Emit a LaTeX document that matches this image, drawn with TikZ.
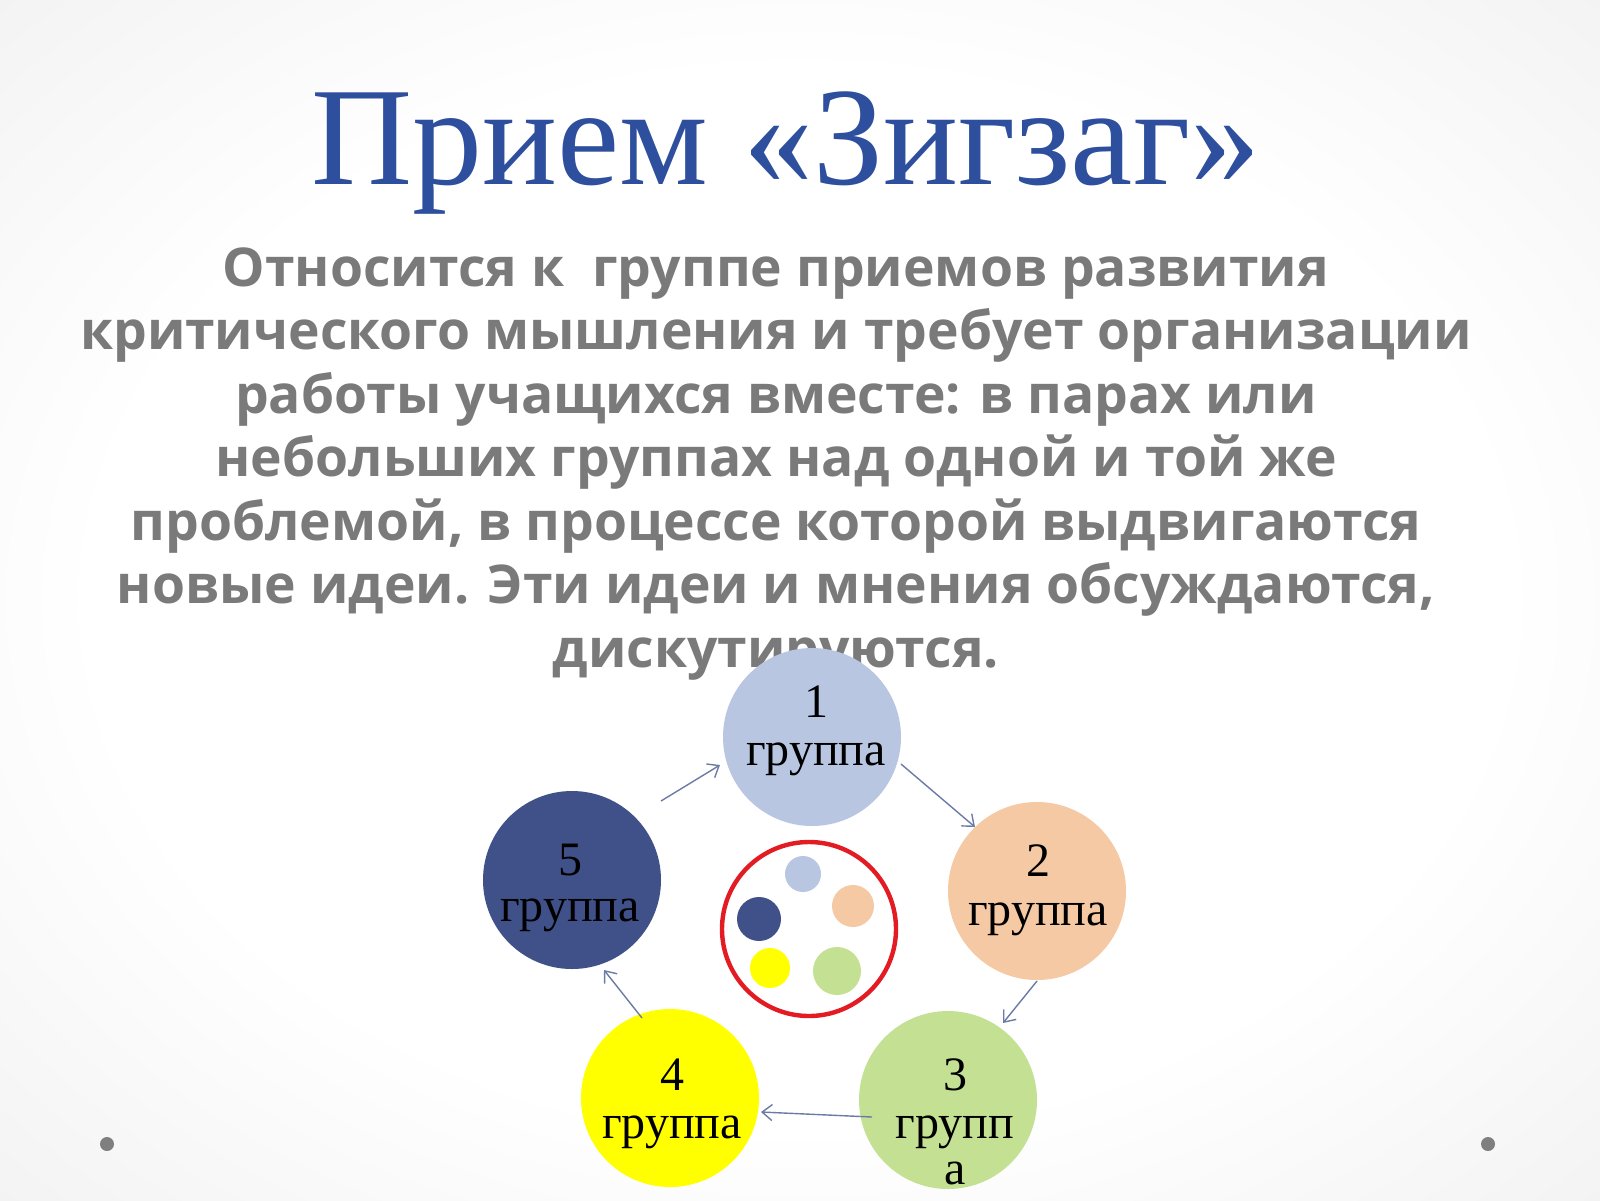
\documentclass[tikz,border=0pt]{standalone}
\usepackage{fontspec}
\setmainfont{Liberation Serif}
\newfontfamily\bodyfont{Open Sans}
\usetikzlibrary{arrows.meta}
\definecolor{titleblue}{HTML}{2E4F9E}
\definecolor{bodygray}{HTML}{7A7A7A}
\definecolor{gone}{HTML}{B9C6E2}
\definecolor{gtwo}{HTML}{F4C9A4}
\definecolor{gthree}{HTML}{C4E193}
\definecolor{gfour}{HTML}{FFFF00}
\definecolor{gfive}{HTML}{3F5188}
\definecolor{arrowc}{HTML}{6C7BA6}
\definecolor{ringred}{HTML}{E31B23}
\definecolor{bulletgray}{HTML}{7F7F7F}
\pgfdeclareradialshading{bgshade}{\pgfpoint{0bp}{0bp}}{color(0bp)=(white); color(22bp)=(white); color(71bp)=(black!17)}
\begin{document}
\begin{tikzpicture}[x=0.5pt,y=-0.5pt,
  bodyline/.style={font=\bodyfont\bfseries\fontsize{26.7}{32}\selectfont, text=bodygray, anchor=base, inner sep=0},
  grp/.style={circle, minimum size=89pt, inner sep=0},
  lbl/.style={font=\fontsize{24}{25}\selectfont, anchor=base, inner sep=0, text=black},
  dotc/.style={circle, inner sep=0},
  conn/.style={draw=arrowc, line width=0.7pt, -{Straight Barb[length=5pt,width=8pt]}}]
\fill[shading=bgshade] (0,0) rectangle (1600,1200);
\useasboundingbox (0,0) rectangle (1600,1200);

\node[anchor=base, font=\fontsize{70}{82}\selectfont, text=titleblue, inner sep=0] (title) at (786,184) {Прием «Зигзаг»};

\node[bodyline] (b1) at (776,286) {Относится к\ \ группе приемов развития};
\node[bodyline] (b2) at (776,349.5) {критического мышления и требует организации};
\node[bodyline] (b3) at (776,413) {работы учащихся вместе: в парах или};
\node[bodyline] (b4) at (776,476.5) {небольших группах над одной и той же};
\node[bodyline] (b5) at (776,540) {проблемой, в процессе которой выдвигаются};
\node[bodyline] (b6) at (776,603.5) {новые идеи. Эти идеи и мнения обсуждаются,};
\node[bodyline] (b7) at (776,667) {дискутируются.};

\node[grp, fill=gone] (c1) at (812,737) {};
\node[grp, fill=gtwo] (c2) at (1037,891) {};
\node[grp, fill=gthree] (c3) at (948,1100) {};
\node[grp, fill=gfour] (c4) at (670,1098) {};
\node[grp, fill=gfive] (c5) at (572,880) {};

\node[circle, inner sep=0, minimum size=87pt, draw=ringred, line width=2.2pt, fill=white] (ring) at (809,929) {};
\node[dotc, fill=gone, minimum size=18pt] (d1) at (803,874) {};
\node[dotc, fill=gtwo, minimum size=21pt] (d2) at (853,906) {};
\node[dotc, fill=gfive, minimum size=22pt] (d5) at (759,919) {};
\node[dotc, fill=gfour, minimum size=20pt] (d4) at (770,968) {};
\node[dotc, fill=gthree, minimum size=24pt] (d3) at (837,971) {};

\node[lbl] (t1a) at (816,717) {1};
\node[lbl] (t1b) at (816,765) {группа};
\node[lbl] (t2a) at (1038,876) {2};
\node[lbl] (t2b) at (1038,925) {группа};
\node[lbl] (t3a) at (955,1090) {3};
\node[lbl] (t3b) at (955,1138) {групп};
\node[lbl] (t3c) at (955,1184) {а};
\node[lbl] (t4a) at (672,1090) {4};
\node[lbl] (t4b) at (672,1138) {группа};
\node[lbl] (t5a) at (570,875) {5};
\node[lbl] (t5b) at (570,921) {группа};

\coordinate (a51s) at (661,801);
\coordinate (a51e) at (720,765);
\coordinate (a12s) at (901,764);
\coordinate (a12e) at (975,827);
\coordinate (a23s) at (1037,981);
\coordinate (a23e) at (1003,1023);
\coordinate (a34s) at (872,1117);
\coordinate (a34e) at (761,1112);
\coordinate (a45s) at (642,1018);
\coordinate (a45e) at (604,970);
\draw[conn] (a51s) -- (a51e);
\draw[conn] (a12s) -- (a12e);
\draw[conn] (a23s) -- (a23e);
\draw[conn] (a34s) -- (a34e);
\draw[conn] (a45s) -- (a45e);

\node[circle, fill=bulletgray, minimum size=7pt, inner sep=0] (bl) at (107,1144) {};
\node[circle, fill=bulletgray, minimum size=7pt, inner sep=0] (br) at (1488,1144) {};
\end{tikzpicture}
\end{document}
